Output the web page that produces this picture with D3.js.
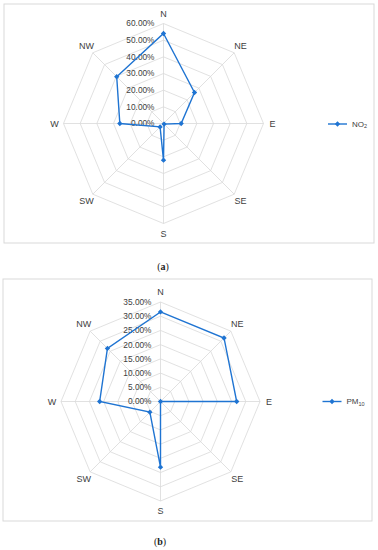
<!DOCTYPE html>
<html>
<head>
<meta charset="utf-8">
<script src="https://cdn.jsdelivr.net/npm/d3@7"></script>
<style>
  body { margin: 0; background: #fff; }
  svg { display: block; font-family: "Liberation Sans", Arial, sans-serif; }
</style>
</head>
<body>
<div id="chart"></div>
<script>
// wind directions, clockwise from north
const directions = ["N", "NE", "E", "SE", "S", "SW", "W", "NW"];

// panel (a) NO2 share per direction (%)
const no2Values = [54, 26.3, 10.6, 0.5, 22, 2.9, 26.2, 39.7];
const no2Ticks = [0, 10, 20, 30, 40, 50, 60];

// panel (b) PM10 share per direction (%)
const pm10Values = [31.5, 31.6, 26.8, 0, 23.1, 5.3, 21.4, 26.4];
const pm10Ticks = [0, 5, 10, 15, 20, 25, 30, 35];

const blue = "#1f74d2";
const grid = "#d9d9d9";

const svg = d3.select("#chart")
  .append("svg")
  .attr("width", 378)
  .attr("height", 550);

function drawRadar(panel) {
  let g = svg.append("g");

  // outer frame
  g.append("rect")
    .attr("x", panel.box[0]).attr("y", panel.box[1])
    .attr("width", panel.box[2]).attr("height", panel.box[3])
    .attr("fill", "none")
    .attr("stroke", grid)
    .attr("stroke-width", 1);

  let cx = panel.cx, cy = panel.cy;
  let r = d3.scaleLinear()
    .domain([0, d3.max(panel.ticks)])
    .range([0, panel.radius]);
  let angle = d3.scaleLinear()
    .domain([0, directions.length])
    .range([0, 2 * Math.PI]);

  let chart = g.append("g").attr("transform", "translate(" + cx + "," + cy + ")");

  // octagon rings
  let ring = d3.lineRadial()
    .angle((d, i) => angle(i))
    .radius(d => r(d))
    .curve(d3.curveLinearClosed);
  chart.selectAll(".ring")
    .data(panel.ticks.slice(1))
    .enter()
    .append("path")
    .attr("d", t => ring(directions.map(() => t)))
    .attr("fill", "none")
    .attr("stroke", grid)
    .attr("stroke-width", 0.8);

  // spokes
  chart.selectAll(".spoke")
    .data(directions)
    .enter()
    .append("line")
    .attr("x1", 0).attr("y1", 0)
    .attr("x2", (d, i) => r(d3.max(panel.ticks)) * Math.sin(angle(i)))
    .attr("y2", (d, i) => -r(d3.max(panel.ticks)) * Math.cos(angle(i)))
    .attr("stroke", grid)
    .attr("stroke-width", 0.8);

  // direction labels
  chart.selectAll(".dir")
    .data(directions)
    .enter()
    .append("text")
    .attr("x", (d, i) => (panel.radius + 9) * Math.sin(angle(i)))
    .attr("y", (d, i) => -(panel.radius + 10) * Math.cos(angle(i)))
    .attr("dy", "0.35em")
    .attr("text-anchor", "middle")
    .attr("font-size", 9)
    .attr("fill", "#404040")
    .text(d => d);

  // value labels along the north spoke
  chart.selectAll(".tick")
    .data(panel.ticks)
    .enter()
    .append("text")
    .attr("x", -9)
    .attr("y", t => -r(t))
    .attr("dy", "0.35em")
    .attr("text-anchor", "end")
    .attr("font-size", 8.3)
    .attr("fill", "#404040")
    .text(t => t.toFixed(2) + "%");

  // data polygon
  let line = d3.lineRadial()
    .angle((d, i) => angle(i))
    .radius(d => r(d))
    .curve(d3.curveLinearClosed);
  chart.append("path")
    .attr("d", line(panel.values))
    .attr("fill", "none")
    .attr("stroke", blue)
    .attr("stroke-width", 1.4);

  let diamond = d3.symbol().type(d3.symbolDiamond2).size(18);
  chart.selectAll(".pt")
    .data(panel.values)
    .enter()
    .append("path")
    .attr("d", diamond)
    .attr("transform", (d, i) => "translate(" + (r(d) * Math.sin(angle(i))) + "," + (-r(d) * Math.cos(angle(i))) + ")")
    .attr("fill", blue);

  // legend
  let lg = g.append("g").attr("transform", "translate(" + panel.legend[0] + "," + panel.legend[1] + ")");
  lg.append("line")
    .attr("x1", 0).attr("x2", 19)
    .attr("stroke", blue).attr("stroke-width", 1.4);
  lg.append("path")
    .attr("d", diamond)
    .attr("transform", "translate(9.5,0)")
    .attr("fill", blue);
  let lt = lg.append("text")
    .attr("x", 24)
    .attr("dy", "0.35em")
    .attr("font-size", 8)
    .attr("fill", "#404040");
  lt.append("tspan").text(panel.name);
  lt.append("tspan").attr("font-size", 5.5).attr("dy", 1.5).text(panel.sub);

  // caption
  let cap = svg.append("text")
    .attr("x", panel.caption[0])
    .attr("y", panel.caption[1])
    .attr("text-anchor", "middle")
    .attr("font-family", "Liberation Serif, Times New Roman, serif")
    .attr("font-size", 10)
    .attr("fill", "#222");
  cap.append("tspan").text("(");
  cap.append("tspan").attr("font-weight", "bold").text(panel.letter);
  cap.append("tspan").text(")");
}

drawRadar({
  box: [4, 4, 370, 239],
  cx: 163.5, cy: 123.5, radius: 100,
  ticks: no2Ticks, values: no2Values,
  legend: [328, 124], name: "NO", sub: "2",
  caption: [163, 270], letter: "a"
});

drawRadar({
  box: [3, 279, 369, 242],
  cx: 160.5, cy: 401.5, radius: 99.5,
  ticks: pm10Ticks, values: pm10Values,
  legend: [322.5, 401.5], name: "PM", sub: "10",
  caption: [160, 545], letter: "b"
});
</script>
</body>
</html>
